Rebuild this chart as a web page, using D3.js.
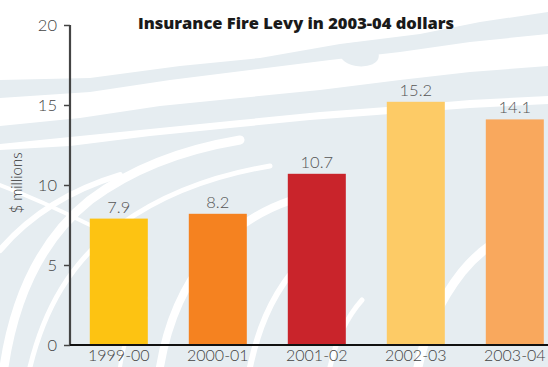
<!DOCTYPE html>
<html>
<head>
<meta charset="utf-8">
<script src="https://cdnjs.cloudflare.com/ajax/libs/d3/7.8.5/d3.min.js"></script>
<style>
  html, body { margin: 0; padding: 0; background: #fff; }
  svg { display: block; font-family: "Lato", "Open Sans", "DejaVu Sans", sans-serif; }
</style>
</head>
<body>
<svg id="chart" width="548" height="367"></svg>
<script>
// Insurance Fire Levy, $ millions in 2003-04 dollars
const years = ["1999-00", "2000-01", "2001-02", "2002-03", "2003-04"];
const levy = [7.9, 8.2, 10.7, 15.2, 14.1];
const barColors = ["#fdc312", "#f58220", "#c9242b", "#fdcb66", "#f9a85d"];
const yTicks = [0, 5, 10, 15, 20];
const titleText = "Insurance Fire Levy in 2003-04 dollars";
const yLabel = "$ millions";

const W = 548, H = 367;
const left = 70, baseY = 345, topY = 25;
const lightFont = "Lato, 'Open Sans', sans-serif";

const svg = d3.select("#chart");

// ---- decorative brush-stroke backdrop ----
const bg = svg.append("g").attr("class", "backdrop");
const wash = "#e6edf1";
bg.append("rect").attr("width", W).attr("height", H).attr("fill", "#fff");
// upper diagonal bands
bg.append("path").attr("fill", wash)
  .attr("d", "M0,80 L90,78 L180,66 L260,58 L340,44 L420,34 L480,22 L548,12 L548,34 L470,42 L400,52 L330,60 L250,70 L170,80 L90,92 L0,98 Z");
bg.append("path").attr("fill", wash)
  .attr("d", "M340,46 C352,40 372,42 378,52 C382,62 370,68 356,66 C344,64 336,56 340,46 Z");
bg.append("path").attr("fill", wash)
  .attr("d", "M0,126 L80,118 L160,106 L240,98 L320,90 L400,80 L470,72 L548,66 L548,96 L470,100 L400,106 L320,112 L240,120 L160,128 L80,136 L0,144 Z");
// lower wash
bg.append("path").attr("fill", wash)
  .attr("d", "M0,150 L70,146 L150,136 L230,128 L310,120 L390,114 L470,108 L548,104 L548,367 L0,367 Z");
// white sweeping arcs over the lower wash
const arcs = [
  {d: "M4,367 C14,300 40,240 90,200 C130,170 180,150 240,140", w: 9},
  {d: "M30,367 C44,310 70,262 120,225 C160,196 210,176 270,166", w: 5},
  {d: "M0,250 C30,215 70,190 120,175", w: 6},
  {d: "M0,185 C40,200 70,215 90,225", w: 4},
  {d: "M160,367 C168,320 186,280 214,250 C236,226 262,210 292,200", w: 8},
  {d: "M250,367 C258,330 270,300 292,272", w: 6},
  {d: "M418,367 C426,330 440,300 462,272 C480,250 500,236 530,226", w: 9},
  {d: "M120,367 C124,340 132,318 146,298", w: 4},
  {d: "M330,367 C336,340 346,318 362,300", w: 5}
];
bg.selectAll("path.sweep").data(arcs).enter().append("path")
  .attr("class", "sweep")
  .attr("d", d => d.d)
  .attr("fill", "none")
  .attr("stroke", "#fff")
  .attr("stroke-width", d => d.w)
  .attr("stroke-linecap", "round");

// ---- scales ----
const pIn = 0.414, pOut = 0.2, step = 99;
const x = d3.scaleBand()
  .domain(years)
  .range([left, left + step * (years.length - pIn + 2 * pOut)])
  .paddingInner(pIn)
  .paddingOuter(pOut);
const y = d3.scaleLinear().domain([0, 20]).range([baseY, topY]);

// ---- bars ----
svg.append("g").selectAll("rect").data(years).enter().append("rect")
  .attr("x", d => x(d))
  .attr("y", (d, i) => y(levy[i]))
  .attr("width", x.bandwidth())
  .attr("height", (d, i) => y(0) - y(levy[i]))
  .attr("fill", (d, i) => barColors[i]);

// ---- value labels ----
svg.append("g").selectAll("text").data(years).enter().append("text")
  .attr("x", d => x(d) + x.bandwidth() / 2)
  .attr("y", (d, i) => y(levy[i]) - 6)
  .attr("text-anchor", "middle")
  .style("font-family", lightFont)
  .style("font-size", "16.5px")
  .style("font-weight", 300)
  .attr("fill", "#555")
  .text((d, i) => levy[i].toFixed(1));

// ---- y axis ----
const yAxis = svg.append("g")
  .attr("transform", `translate(${left},0)`)
  .call(d3.axisLeft(y).tickValues(yTicks).tickSize(6).tickPadding(7).tickFormat(d3.format("d")));
yAxis.select(".domain").attr("stroke", "#444").attr("stroke-width", 2.2).attr("d", `M0,${topY}V${baseY}`);
yAxis.selectAll(".tick line").attr("stroke", "#444").attr("stroke-width", 1.5);
yAxis.selectAll(".tick text")
  .style("font-family", lightFont).style("font-size", "16.5px").style("font-weight", 300)
  .attr("fill", "#444");

// ---- x axis ----
const xAxis = svg.append("g")
  .attr("transform", `translate(0,${baseY})`)
  .call(d3.axisBottom(x).tickSize(0).tickPadding(5));
xAxis.select(".domain").attr("stroke", "#111").attr("stroke-width", 2).attr("d", `M${left},0H${W}`);
xAxis.selectAll(".tick text")
  .style("font-family", lightFont).style("font-size", "16px").style("font-weight", 300)
  .attr("fill", "#444");

// ---- title ----
svg.append("text")
  .attr("x", 296).attr("y", 29)
  .attr("text-anchor", "middle")
  .style("font-family", "'Open Sans', 'DejaVu Sans', sans-serif")
  .style("font-size", "16.5px")
  .style("font-weight", 800)
  .attr("fill", "#1a1a1a")
  .text(titleText);

// ---- y label ----
svg.append("text")
  .attr("transform", "translate(22,183) rotate(-90)")
  .attr("text-anchor", "middle")
  .style("font-family", lightFont)
  .style("font-size", "15px")
  .style("font-weight", 300)
  .attr("fill", "#333")
  .text(yLabel);
</script>
</body>
</html>
